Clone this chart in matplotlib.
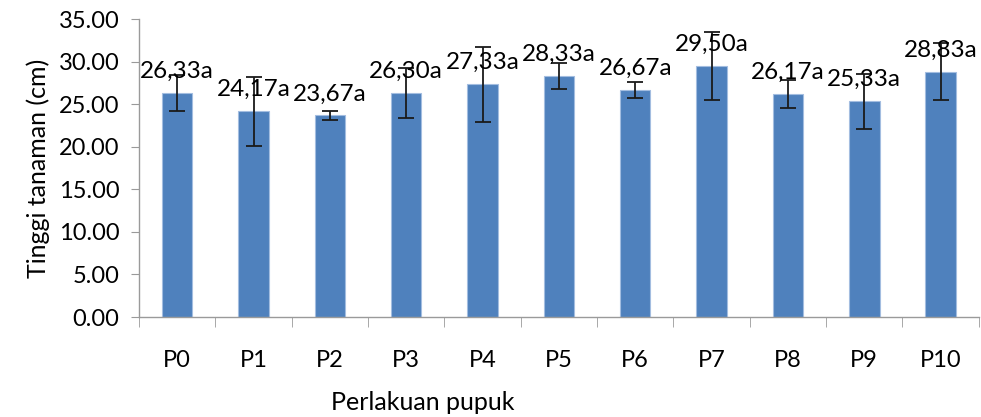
import numpy as np
import matplotlib.pyplot as plt

perlakuan = ["P0", "P1", "P2", "P3", "P4", "P5", "P6", "P7", "P8", "P9", "P10"]
tinggi = [26.33, 24.17, 23.67, 26.30, 27.33, 28.33, 26.67, 29.50, 26.17, 25.33, 28.83]
galat = [2.1, 4.05, 0.55, 2.9, 4.4, 1.5, 0.95, 4.0, 1.65, 3.2, 3.3]
label = ["26,33a", "24,17a", "23,67a", "26,30a", "27,33a", "28,33a",
         "26,67a", "29,50a", "26,17a", "25,33a", "28,83a"]

plt.rcParams["font.family"] = ["Lato", "DejaVu Sans"]

fig = plt.figure(figsize=(9.81, 4.17), dpi=100)
ax = fig.add_axes([0.1417, 0.2398, 0.856, 0.7146])

x = np.arange(len(perlakuan))
ax.bar(x, tinggi, width=0.4, color="#4f81bd", edgecolor="#a3bde0", linewidth=0.8, zorder=2)
ax.errorbar(x, tinggi, yerr=galat, fmt="none", ecolor="#1a1a1a",
            elinewidth=1.3, capsize=6, capthick=1.3, zorder=3)

for xi, yi, s in zip(x, tinggi, label):
    ax.annotate(s, (xi, yi), xytext=(0, 8), textcoords="offset points",
                ha="center", va="bottom", fontsize=17.5, color="#000000", zorder=4)

ax.set_xlim(-0.5, len(perlakuan) - 0.5)
ax.set_ylim(0, 35)
ax.set_yticks(np.arange(0, 35.1, 5))
ax.set_yticklabels(["%.2f" % v for v in np.arange(0, 35.1, 5)])
ax.set_xticks(x)
ax.set_xticklabels(perlakuan)
ax.set_xticks(np.arange(-0.5, len(perlakuan), 1), minor=True)

for sp in ["top", "right"]:
    ax.spines[sp].set_visible(False)
for sp in ["left", "bottom"]:
    ax.spines[sp].set_color("#9a9a9a")
    ax.spines[sp].set_linewidth(1.0)

ax.tick_params(axis="y", direction="out", length=6, color="#9a9a9a", labelsize=17, pad=8)
ax.tick_params(axis="x", which="major", length=0, labelsize=17, pad=24)
ax.tick_params(axis="x", which="minor", direction="out", length=7, color="#9a9a9a")

ax.set_ylabel("Tinggi tanaman (cm)", fontsize=18, labelpad=6)
fig.text(423 / 981, 1 - 403 / 417, "Perlakuan pupuk", ha="center", va="center", fontsize=18)

fig.savefig("out.png", dpi=100)
